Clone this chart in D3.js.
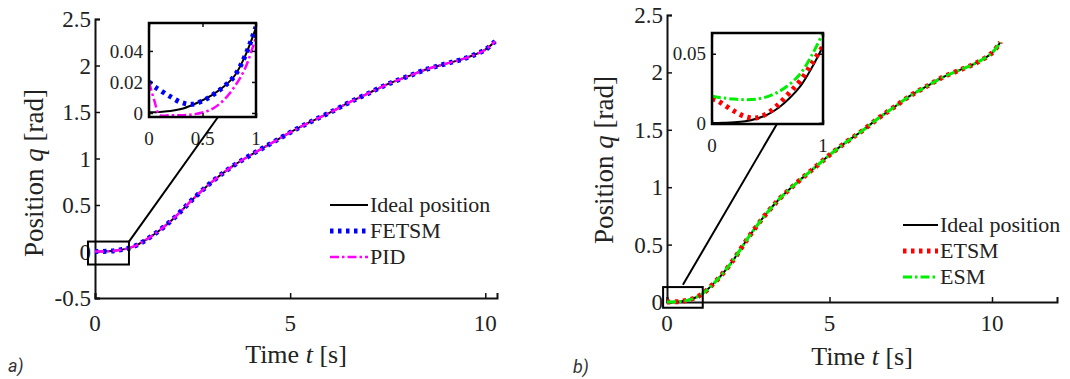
<!DOCTYPE html>
<html>
<head>
<meta charset="utf-8">
<script src="https://cdn.jsdelivr.net/npm/d3@7"></script>
<style>
  body { margin: 0; background: #fff; }
  svg { display: block; }
  text { font-family: "Liberation Serif", "Times New Roman", serif; fill: #222; }
  .panel-tag { font-family: Roboto, "Noto Sans", sans-serif; font-style: italic; fill: #333; }
</style>
</head>
<body>
<svg id="chart" width="1070" height="379"></svg>
<script>
// main trajectory (controllers overlap the ideal position at this scale)
var timeMain = [0, 0.5, 1, 1.5, 2, 2.5, 3, 3.5, 4, 4.5, 5, 5.5, 6, 6.5, 7, 7.5, 8, 8.5, 9, 9.5, 10, 10.25];
var qIdeal = [0, 0.008, 0.055, 0.18, 0.35, 0.56, 0.75, 0.91, 1.04, 1.16, 1.28, 1.39, 1.49, 1.60, 1.70, 1.80, 1.88, 1.96, 2.02, 2.08, 2.17, 2.26];

// zoomed start, t = 0..1 s
var timeZoom = [0, 0.05, 0.1, 0.2, 0.3, 0.4, 0.5, 0.6, 0.7, 0.8, 0.9, 1];
var zoomIdealA = [0.0005, 0.0005, 0.0007, 0.0012, 0.0025, 0.005, 0.0082, 0.012, 0.017, 0.024, 0.037, 0.055];
var zoomFetsm = [0.02, 0.017, 0.0148, 0.0105, 0.0068, 0.0056, 0.0078, 0.0118, 0.017, 0.024, 0.037, 0.0555];
var zoomPid = [0.02, 0.008, -0.0012, -0.0015, -0.0015, -0.001, 0.0003, 0.003, 0.0084, 0.017, 0.029, 0.049];
var zoomIdealB = [0, 0, 0.0001, 0.0004, 0.0012, 0.003, 0.006, 0.011, 0.018, 0.027, 0.040, 0.0555];
var zoomEtsm = [0.0175, 0.016, 0.0135, 0.0085, 0.0045, 0.0036, 0.007, 0.0135, 0.022, 0.031, 0.043, 0.0555];
var zoomEsm = [0.0192, 0.0185, 0.018, 0.0172, 0.0168, 0.0172, 0.019, 0.0225, 0.028, 0.036, 0.049, 0.065];

var ticksMainA = [-0.5, 0, 0.5, 1, 1.5, 2, 2.5];
var ticksMainB = [0, 0.5, 1, 1.5, 2, 2.5];
var ticksTime = [0, 5, 10];
var ticksZoomA = [0, 0.02, 0.04];
var ticksZoomB = [0, 0.05];
var ticksZoomTimeA = [0, 0.5, 1];
var ticksZoomTimeB = [0, 1];

var namesA = ['Ideal position', 'FETSM', 'PID'];
var namesB = ['Ideal position', 'ETSM', 'ESM'];

var styles = {
  ideal: { width: 2, dash: null },
  dots: { width: 5, dash: '3.5,4.5' },
  dashdot: { width: 2.5, dash: '9,3,2.5,3' }
};

var svg = d3.select('#chart');

var panels = [
  {
    tag: 'a)', tagX: 8, tagY: 372,
    xr: [95, 497], xd: [0, 10.3], yr: [298, 19], yd: [-0.5, 2.5], yTicks: ticksMainA,
    yLabelX: 43, yLabelY: 173, xLabelY: 363, xTickY: 331,
    inset: { xr: [149, 256], yr: [117, 23], yd: [-0.0026, 0.058], yTicks: ticksZoomA, xTicks: ticksZoomTimeA },
    rect: { x: [-0.18, 0.87], y: [-0.14, 0.107] },
    link: { from: [0.87, 0.107], to: 0.645 },
    series: [
      { name: namesA[0], zoom: zoomIdealA, color: '#000', style: 'ideal' },
      { name: namesA[1], zoom: zoomFetsm, color: '#0000ff', style: 'dots' },
      { name: namesA[2], zoom: zoomPid, color: '#ff00ff', style: 'dashdot' }
    ],
    legend: { x0: 330, x1: 368, rows: [205, 231, 257] }
  },
  {
    tag: 'b)', tagX: 573, tagY: 373,
    xr: [667, 1057], xd: [0, 12], yr: [302, 15], yd: [0, 2.5], yTicks: ticksMainB,
    yLabelX: 613, yLabelY: 160, xLabelY: 365, xTickY: 331,
    inset: { xr: [712, 823], yr: [124, 33], yd: [-0.0008, 0.065], yTicks: ticksZoomB, xTicks: ticksZoomTimeB },
    rect: { x: [-0.12, 1.1], y: [-0.05, 0.13] },
    link: { from: [0.49, 0.15], to: 0.585 },
    series: [
      { name: namesB[0], zoom: zoomIdealB, color: '#000', style: 'ideal' },
      { name: namesB[1], zoom: zoomEtsm, color: '#ff0000', style: 'dots' },
      { name: namesB[2], zoom: zoomEsm, color: '#00ee00', style: 'dashdot', width: 3 }
    ],
    legend: { x0: 903, x1: 938, rows: [225, 251, 277] }
  }
];

function applyStyle(sel, s) {
  var st = styles[s.style];
  sel.attr('fill', 'none')
    .attr('stroke', s.color)
    .attr('stroke-width', s.width || st.width)
    .attr('stroke-dasharray', st.dash);
}

panels.forEach(function (p, pi) {
  var g = svg.append('g');
  var x = d3.scaleLinear().domain(p.xd).range(p.xr);
  var y = d3.scaleLinear().domain(p.yd).range(p.yr);

  // axes (box off, ticks inside)
  var yAxis = d3.axisRight(y).tickValues(p.yTicks).tickSize(5).tickFormat('');
  var xAxis = d3.axisTop(x).tickValues(ticksTime).tickSize(5).tickFormat('');
  g.append('g').attr('transform', 'translate(' + p.xr[0] + ',0)').call(yAxis);
  g.append('g').attr('transform', 'translate(0,' + p.yr[0] + ')').call(xAxis);
  g.selectAll('.domain').attr('stroke', '#111').attr('stroke-width', 2);
  g.selectAll('.tick line').attr('stroke', '#111').attr('stroke-width', 1.5);

  g.selectAll('.ylab').data(p.yTicks).enter().append('text')
    .attr('x', p.xr[0] - 4).attr('y', function (d) { return y(d); })
    .attr('dy', '0.35em').attr('text-anchor', 'end')
    .style('font-size', '23px')
    .text(function (d) { return d; });
  g.selectAll('.xlab').data(ticksTime).enter().append('text')
    .attr('x', function (d) { return x(d); }).attr('y', p.xTickY)
    .attr('text-anchor', 'middle')
    .style('font-size', '23px')
    .text(function (d) { return d; });

  var xl = g.append('text')
    .attr('x', (p.xr[0] + p.xr[1]) / 2).attr('y', p.xLabelY)
    .attr('text-anchor', 'middle').style('font-size', '26px');
  xl.append('tspan').text('Time ');
  xl.append('tspan').style('font-style', 'italic').text('t');
  xl.append('tspan').text(' [s]');

  var yl = g.append('text')
    .attr('transform', 'translate(' + p.yLabelX + ',' + p.yLabelY + ') rotate(-90)')
    .attr('text-anchor', 'middle').style('font-size', '27px');
  yl.append('tspan').text('Position ');
  yl.append('tspan').style('font-style', 'italic').text('q');
  yl.append('tspan').text(' [rad]');

  g.append('text').attr('class', 'panel-tag')
    .attr('x', p.tagX).attr('y', p.tagY)
    .style('font-size', '18px').text(p.tag);

  // main curves
  var line = d3.line()
    .x(function (d, i) { return x(timeMain[i]); })
    .y(function (d) { return y(d); })
    .curve(d3.curveCatmullRom);
  p.series.forEach(function (s) {
    g.append('path').datum(qIdeal).attr('d', line).call(applyStyle, s);
  });

  // zoom rectangle and link to inset
  var ins = p.inset;
  var ix = d3.scaleLinear().domain([0, 1]).range(ins.xr);
  var iy = d3.scaleLinear().domain(ins.yd).range(ins.yr);

  g.append('rect')
    .attr('x', x(p.rect.x[0])).attr('y', y(p.rect.y[1]))
    .attr('width', x(p.rect.x[1]) - x(p.rect.x[0]))
    .attr('height', y(p.rect.y[0]) - y(p.rect.y[1]))
    .attr('fill', 'none').attr('stroke', '#000').attr('stroke-width', 2);

  // inset
  var ig = g.append('g');
  ig.append('rect')
    .attr('x', ins.xr[0]).attr('y', ins.yr[1])
    .attr('width', ins.xr[1] - ins.xr[0]).attr('height', ins.yr[0] - ins.yr[1])
    .attr('fill', '#fff');

  ig.append('clipPath').attr('id', 'clip' + pi).append('rect')
    .attr('x', ins.xr[0]).attr('y', ins.yr[1])
    .attr('width', ins.xr[1] - ins.xr[0]).attr('height', ins.yr[0] - ins.yr[1]);

  var iline = d3.line()
    .x(function (d, i) { return ix(timeZoom[i]); })
    .y(function (d) { return iy(d); })
    .curve(d3.curveCatmullRom.alpha(0.5));
  var cg = ig.append('g').attr('clip-path', 'url(#clip' + pi + ')');
  p.series.forEach(function (s) {
    cg.append('path').datum(s.zoom).attr('d', iline).call(applyStyle, s);
  });

  ig.append('g').attr('transform', 'translate(' + ins.xr[0] + ',0)')
    .call(d3.axisRight(iy).tickValues(ins.yTicks).tickSize(4).tickFormat(''));
  ig.append('g').attr('transform', 'translate(' + ins.xr[1] + ',0)')
    .call(d3.axisLeft(iy).tickValues(ins.yTicks).tickSize(4).tickFormat(''));
  ig.append('g').attr('transform', 'translate(0,' + ins.yr[0] + ')')
    .call(d3.axisTop(ix).tickValues(ins.xTicks).tickSize(4).tickFormat(''));
  ig.append('g').attr('transform', 'translate(0,' + ins.yr[1] + ')')
    .call(d3.axisBottom(ix).tickValues(ins.xTicks).tickSize(4).tickFormat(''));
  ig.selectAll('.domain').attr('stroke', 'none');
  ig.selectAll('.tick line').attr('stroke', '#111').attr('stroke-width', 1.5);
  ig.append('rect')
    .attr('x', ins.xr[0]).attr('y', ins.yr[1])
    .attr('width', ins.xr[1] - ins.xr[0]).attr('height', ins.yr[0] - ins.yr[1])
    .attr('fill', 'none').attr('stroke', '#000').attr('stroke-width', 2.5);

  ig.selectAll('.iylab').data(ins.yTicks).enter().append('text')
    .attr('x', ins.xr[0] - 6).attr('y', function (d) { return iy(d); })
    .attr('dy', '0.35em').attr('text-anchor', 'end')
    .style('font-size', '19px')
    .text(function (d) { return d; });
  ig.selectAll('.ixlab').data(ins.xTicks).enter().append('text')
    .attr('x', function (d) { return ix(d); }).attr('y', ins.yr[0] + 28)
    .attr('text-anchor', 'middle')
    .style('font-size', '19px')
    .text(function (d) { return d; });

  g.append('line')
    .attr('x1', x(p.link.from[0])).attr('y1', y(p.link.from[1]))
    .attr('x2', ix(p.link.to)).attr('y2', ins.yr[0])
    .attr('stroke', '#000').attr('stroke-width', 2);

  // legend
  p.series.forEach(function (s, i) {
    var ry = p.legend.rows[i];
    g.append('line')
      .attr('x1', p.legend.x0).attr('x2', p.legend.x1)
      .attr('y1', ry).attr('y2', ry)
      .call(applyStyle, s);
    g.append('text')
      .attr('x', p.legend.x1 + 2).attr('y', ry)
      .attr('dy', '0.33em')
      .style('font-size', '22px')
      .text(s.name);
  });
});
</script>
</body>
</html>
